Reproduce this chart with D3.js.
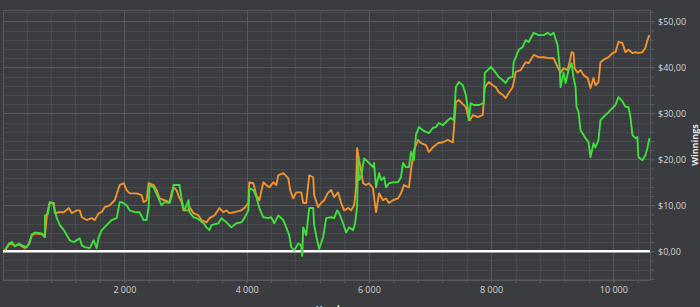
<!DOCTYPE html>
<html>
<head>
<meta charset="utf-8">
<script src="https://cdn.jsdelivr.net/npm/d3@7"></script>
<style>
  body { margin: 0; background: #3a3c3f; }
  text { font-family: "Open Sans", sans-serif; }
</style>
</head>
<body>
<svg id="chart" width="700" height="307"></svg>
<script>
// hands played, winnings in $
var netWon = [[47,0.2],[112,1.7],[161,2.0],[210,1.1],[275,1.7],[324,1.3],[406,0.9],[439,1.7],[488,3.7],[537,4.1],[651,3.9],[700,3.1],[702,7.8],[749,8.1],[781,10.5],[830,10.5],[863,8.9],[896,7.2],[945,5.7],[1010,4.6],[1059,3.5],[1108,2.4],[1173,2.0],[1271,2.8],[1304,1.3],[1353,0.9],[1434,0.7],[1500,2.4],[1548,0.7],[1581,3.1],[1630,4.6],[1712,5.7],[1793,6.8],[1875,7.2],[1924,10.7],[1956,10.7],[2038,10.0],[2087,8.9],[2169,8.5],[2250,8.5],[2315,6.8],[2364,6.8],[2397,9.6],[2413,14.4],[2479,13.9],[2560,11.5],[2609,10.0],[2658,10.7],[2740,10.5],[2772,11.8],[2805,14.4],[2903,14.4],[2936,11.5],[2968,9.4],[2985,8.9],[3050,11.1],[3066,8.5],[3131,7.4],[3180,7.2],[3229,6.8],[3295,6.1],[3344,5.2],[3393,4.6],[3425,5.7],[3539,6.1],[3588,7.2],[3670,6.3],[3752,5.2],[3833,6.1],[3915,6.3],[3964,7.2],[4029,8.9],[4045,13.7],[4111,13.3],[4160,11.8],[4209,9.4],[4274,7.4],[4356,7.2],[4404,7.4],[4453,6.1],[4519,7.8],[4600,6.8],[4649,5.2],[4698,3.5],[4731,0.9],[4780,0.2],[4845,1.7],[4894,1.3],[4910,-1.0],[4927,5.2],[4976,3.5],[5025,9.4],[5090,9.4],[5106,5.7],[5155,2.4],[5188,0.5],[5253,3.1],[5302,7.2],[5384,7.4],[5433,7.2],[5482,8.9],[5514,8.3],[5579,6.1],[5628,4.1],[5677,5.2],[5743,4.6],[5775,6.1],[5808,9.6],[5824,20.2],[5841,15.5],[5873,16.1],[5922,20.2],[6004,19.2],[6069,18.3],[6085,19.2],[6118,13.9],[6167,17.0],[6200,15.5],[6249,16.1],[6281,13.9],[6330,14.8],[6395,15.0],[6477,15.0],[6526,16.1],[6559,19.2],[6608,18.3],[6657,18.3],[6689,21.6],[6738,19.8],[6771,25.3],[6820,27.0],[6885,26.3],[6983,25.7],[7048,26.8],[7097,27.0],[7146,27.9],[7211,27.4],[7293,28.5],[7342,29.0],[7391,28.5],[7424,35.7],[7473,36.8],[7538,36.1],[7587,34.0],[7619,31.1],[7636,28.5],[7668,32.2],[7717,31.8],[7799,31.8],[7881,32.2],[7897,38.8],[7946,39.4],[7995,40.1],[8044,39.4],[8125,37.9],[8191,37.2],[8240,36.6],[8289,37.7],[8354,37.9],[8370,41.1],[8452,43.8],[8517,44.4],[8566,45.9],[8615,45.5],[8697,47.5],[8778,47.0],[8860,47.0],[8925,47.5],[8974,47.0],[9023,47.5],[9088,44.8],[9121,40.1],[9137,35.7],[9186,38.8],[9219,36.6],[9268,39.4],[9317,40.9],[9349,37.7],[9382,35.7],[9398,31.4],[9431,30.3],[9464,26.3],[9513,25.3],[9545,24.6],[9594,23.7],[9627,20.5],[9676,23.5],[9708,22.6],[9757,24.2],[9790,28.5],[9839,29.2],[9904,30.0],[9953,30.7],[10035,31.8],[10084,33.5],[10149,32.6],[10198,31.4],[10247,31.4],[10280,29.2],[10312,25.3],[10361,24.6],[10394,24.8],[10410,20.5],[10475,19.8],[10524,20.9],[10557,22.4],[10590,24.6]];

var allInEV = [[47,0.2],[112,1.5],[161,1.7],[210,1.1],[275,1.5],[324,1.1],[373,0.7],[439,1.5],[488,3.5],[537,3.9],[651,3.7],[700,3.1],[732,7.8],[781,10.7],[847,10.5],[863,8.3],[928,8.5],[1010,8.5],[1091,9.4],[1140,8.3],[1222,8.9],[1271,8.9],[1304,7.4],[1385,6.8],[1467,7.2],[1516,6.8],[1581,8.3],[1630,8.5],[1679,9.6],[1761,10.0],[1842,11.1],[1924,14.4],[1989,14.8],[2038,13.3],[2087,12.6],[2201,12.6],[2283,12.2],[2315,10.7],[2364,11.1],[2397,14.8],[2479,14.4],[2528,13.3],[2577,11.5],[2658,11.1],[2740,10.7],[2772,12.6],[2805,13.9],[2854,13.3],[2903,11.5],[2936,10.7],[2968,8.9],[3050,8.9],[3066,9.6],[3131,8.3],[3213,7.8],[3262,6.8],[3344,6.3],[3393,7.2],[3474,7.8],[3556,9.4],[3621,8.5],[3670,8.9],[3719,8.3],[3801,8.5],[3915,8.9],[3964,9.4],[4029,10.5],[4045,15.0],[4111,14.8],[4160,12.2],[4209,11.1],[4274,15.0],[4323,14.4],[4372,13.9],[4437,15.0],[4486,14.4],[4519,16.5],[4600,17.0],[4682,15.9],[4714,13.3],[4763,11.5],[4812,12.8],[4894,12.8],[4927,10.5],[4976,10.5],[5025,16.5],[5090,16.1],[5106,12.2],[5171,9.6],[5220,10.5],[5269,11.1],[5335,12.8],[5384,13.3],[5433,11.8],[5498,12.8],[5547,10.5],[5596,8.9],[5661,9.4],[5710,8.9],[5759,10.0],[5792,13.9],[5808,22.4],[5841,19.8],[5873,17.6],[5906,14.8],[5955,14.4],[6004,14.8],[6069,13.7],[6085,11.8],[6118,8.5],[6167,12.6],[6232,11.1],[6281,11.5],[6330,10.5],[6395,11.1],[6477,11.5],[6526,12.6],[6575,14.4],[6657,13.9],[6689,17.6],[6738,22.0],[6804,24.2],[6853,23.5],[6934,23.1],[6983,21.6],[7048,22.6],[7130,23.5],[7211,23.7],[7293,24.2],[7375,23.7],[7424,32.4],[7473,32.9],[7538,32.0],[7587,31.4],[7619,29.6],[7652,28.5],[7701,29.6],[7783,29.2],[7864,29.6],[7897,35.7],[7962,36.8],[8028,36.1],[8076,35.7],[8125,34.6],[8191,34.0],[8240,33.3],[8289,34.4],[8354,35.7],[8403,39.0],[8485,39.4],[8566,41.1],[8615,40.9],[8697,42.7],[8778,42.2],[8860,42.2],[8941,42.0],[9023,42.0],[9088,40.1],[9137,38.8],[9186,39.8],[9251,39.4],[9284,41.1],[9317,43.3],[9349,43.1],[9366,39.8],[9415,38.8],[9464,39.4],[9513,38.3],[9578,37.7],[9627,35.5],[9676,37.7],[9708,36.1],[9757,36.8],[9790,41.1],[9839,41.6],[9921,42.2],[9986,43.1],[10035,43.3],[10084,45.5],[10149,45.3],[10198,43.3],[10247,43.8],[10312,43.1],[10361,43.3],[10410,43.1],[10475,43.3],[10524,44.2],[10557,45.9],[10590,47.0]];

var handTicks = [2000, 4000, 6000, 8000, 10000];
var winTicks = [0, 10, 20, 30, 40, 50];

var plotL = 3, plotR = 650, plotT = 10, plotB = 280;

var svg = d3.select("#chart");

var x = d3.scaleLinear().domain([15, 10600]).range([plotL, plotR]);
var y = d3.scaleLinear().domain([-6.24, 52.46]).range([plotB, plotT]);

var handMinor = d3.range(400, 10600, 400);
var winMinor = d3.range(-6, 52.4, 2);

var grid = svg.append("g");

function px(v) { return Math.round(v) + 0.5; }

// minor grid
grid.selectAll(".vminor").data(handMinor).enter().append("line")
    .attr("x1", function(d){ return px(x(d)); }).attr("x2", function(d){ return px(x(d)); })
    .attr("y1", plotT).attr("y2", plotB)
    .attr("stroke", "#46494d").attr("stroke-width", 1);
grid.selectAll(".hminor").data(winMinor).enter().append("line")
    .attr("y1", function(d){ return px(y(d)); }).attr("y2", function(d){ return px(y(d)); })
    .attr("x1", plotL).attr("x2", plotR)
    .attr("stroke", "#46494d").attr("stroke-width", 1);

// major grid
grid.selectAll(".vmajor").data(handTicks).enter().append("line")
    .attr("x1", function(d){ return px(x(d)); }).attr("x2", function(d){ return px(x(d)); })
    .attr("y1", plotT).attr("y2", plotB)
    .attr("stroke", "#56595d").attr("stroke-width", 1);
grid.selectAll(".hmajor").data(winTicks).enter().append("line")
    .attr("y1", function(d){ return px(y(d)); }).attr("y2", function(d){ return px(y(d)); })
    .attr("x1", plotL).attr("x2", plotR)
    .attr("stroke", "#56595d").attr("stroke-width", 1);

svg.append("rect")
    .attr("x", plotL + 0.5).attr("y", plotT + 0.5)
    .attr("width", plotR - plotL).attr("height", plotB - plotT)
    .attr("fill", "none").attr("stroke", "#56595d");

// axes
var locale = d3.formatLocale({ decimal: ",", thousands: " ", grouping: [3], currency: ["$", ""] });
var handFmt = locale.format(",");
var winFmt = locale.format("$.2f");

svg.append("g")
    .attr("transform", "translate(0," + plotB + ")")
    .call(d3.axisBottom(x).tickValues(handMinor).tickSize(3).tickFormat(""));
svg.append("g")
    .attr("transform", "translate(0," + plotB + ")")
    .call(d3.axisBottom(x).tickValues(handTicks).tickSize(3).tickPadding(4).tickFormat(handFmt));

svg.append("g")
    .attr("transform", "translate(" + plotR + ",0)")
    .call(d3.axisRight(y).tickValues(winMinor).tickSize(4).tickFormat(""));
svg.append("g")
    .attr("transform", "translate(" + plotR + ",0)")
    .call(d3.axisRight(y).tickValues(winTicks).tickSize(5).tickPadding(3).tickFormat(winFmt));

svg.selectAll(".domain").remove();
svg.selectAll(".tick line").attr("stroke", "#5a5d61");
svg.selectAll(".tick text")
    .attr("fill", "#d2d2d2")
    .style("font-family", "'Open Sans', sans-serif")
    .style("font-size", "9px");

// zero line
svg.append("line")
    .attr("x1", plotL).attr("x2", plotR)
    .attr("y1", y(0)).attr("y2", y(0))
    .attr("stroke", "#ffffff").attr("stroke-width", 2.5);

// lines
var line = d3.line()
    .x(function(d){ return x(d[0]); })
    .y(function(d){ return y(d[1]); });

svg.append("path").datum(allInEV)
    .attr("d", line)
    .attr("fill", "none")
    .attr("stroke", "#f0922e")
    .attr("stroke-width", 1.9)
    .attr("stroke-linejoin", "round");

svg.append("path").datum(netWon)
    .attr("d", line)
    .attr("fill", "none")
    .attr("stroke", "#3ee03e")
    .attr("stroke-width", 1.9)
    .attr("stroke-linejoin", "round");

// labels
svg.append("text")
    .attr("transform", "translate(694,145) rotate(-90)")
    .attr("text-anchor", "middle")
    .attr("dominant-baseline", "central")
    .attr("fill", "#e6e6e6")
    .attr("font-size", "9px")
    .attr("font-weight", "bold")
    .text("Winnings");

svg.append("text")
    .attr("x", 330).attr("y", 312)
    .attr("text-anchor", "middle")
    .attr("fill", "#e6e6e6")
    .attr("font-size", "9px")
    .attr("font-weight", "bold")
    .text("Hands");
</script>
</body>
</html>
